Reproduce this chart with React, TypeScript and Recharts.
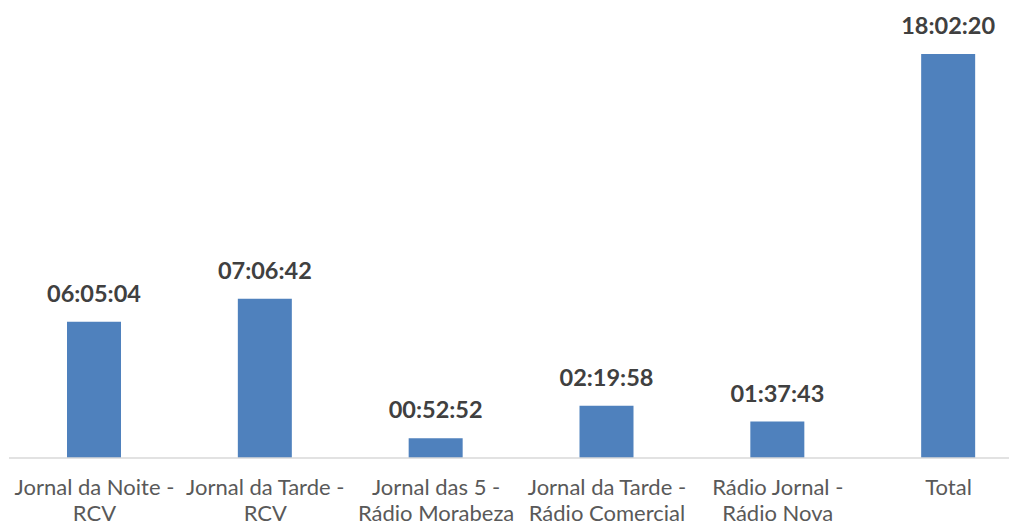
import { Bar, BarChart, LabelList, XAxis, YAxis } from "recharts";

const programLines1 = ["Jornal da Noite -", "Jornal da Tarde -", "Jornal das 5 -", "Jornal da Tarde -", "Rádio Jornal -", "Total"];
const programLines2 = ["RCV", "RCV", "Rádio Morabeza", "Rádio Comercial", "Rádio Nova", ""];
const durationLabels = ["06:05:04", "07:06:42", "00:52:52", "02:19:58", "01:37:43", "18:02:20"];
const durationSeconds = [21904, 25602, 3172, 8398, 5863, 64940];

const data = durationSeconds.map((seconds, i) => ({
  name: programLines1[i],
  line2: programLines2[i],
  seconds,
  label: durationLabels[i],
}));

const FONT = "Lato, 'Open Sans', sans-serif";

function ProgramTick({ x, y, payload, index }: any) {
  const line2 = programLines2[index] ?? "";
  const base = 458 - y;
  return (
    <g transform={`translate(${x},${y})`}>
      <text fill="#595959" fontFamily={FONT} fontSize={22} textAnchor="middle" x={0} y={base + 37}>
        {payload.value}
      </text>
      {line2 ? (
        <text fill="#595959" fontFamily={FONT} fontSize={22} textAnchor="middle" x={0} y={base + 63}>
          {line2}
        </text>
      ) : null}
    </g>
  );
}

function ValueLabel({ x, y, width, value }: any) {
  return (
    <text fill="#404040" fontFamily={FONT} fontSize={23.5} fontWeight="bold" textAnchor="middle" x={x + width / 2} y={y - 20}>
      {value}
    </text>
  );
}

export default function App() {
  return (
    <div style={{ margin: -8, width: 1017, height: 532, overflow: "hidden", background: "#fff" }}>
      <BarChart data={data} height={532} margin={{ top: 54, right: 6, bottom: 0, left: 9 }} width={1040}>
        <XAxis
          axisLine={{ stroke: "#d9d9d9", strokeWidth: 1.5 }}
          dataKey="name"
          height={74}
          interval={0}
          tick={<ProgramTick />}
          tickLine={false}
        />
        <YAxis domain={[0, 64940]} hide />
        <Bar barSize={54} dataKey="seconds" fill="#4f81bd" isAnimationActive={false}>
          <LabelList content={<ValueLabel />} dataKey="label" />
        </Bar>
      </BarChart>
    </div>
  );
}
